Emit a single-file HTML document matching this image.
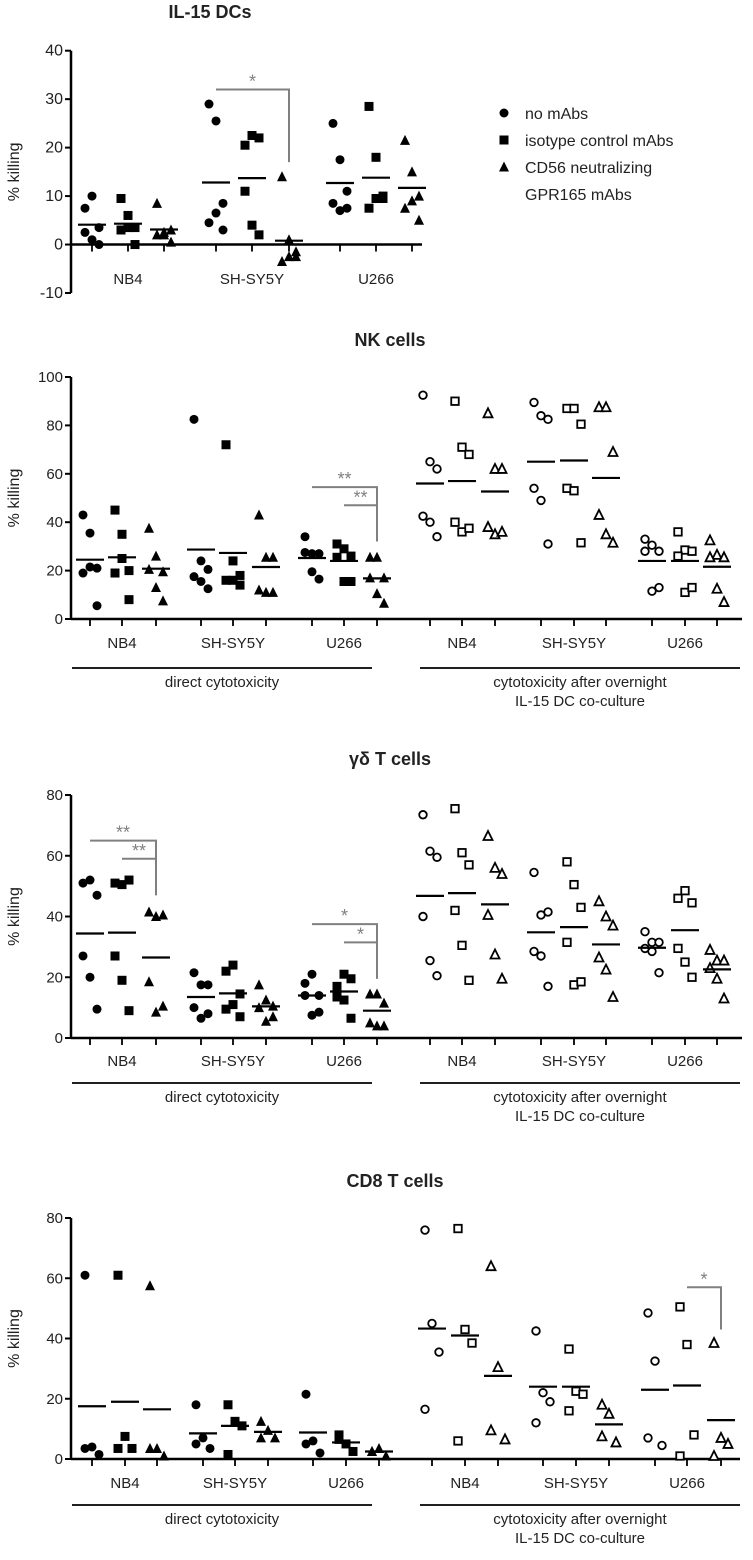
<!DOCTYPE html>
<html><head><meta charset="utf-8"><style>
html,body{margin:0;padding:0;background:#fff}
svg{display:block}
text{font-family:"Liberation Sans",sans-serif;fill:#222}
</style></head><body>
<svg id="fig" width="753" height="1560" viewBox="0 0 753 1560"></svg>
<script>
// ---------- data ----------
const groupLabels = ["NB4","SH-SY5Y","U266"];
const p1Values = [
 [[7.5,10,3.5,2.5,1,0],[9.5,6,3.5,3,3.5,0],[8.5,2,3,2,2.5,0.5]],
 [[29,25.5,8.5,4.5,6.5,3],[20.5,22.5,22,11,4,2],[14,1,-2.5,-3.5,-2.5,-1.5]],
 [[25,17.5,11,8.5,7,7.5],[28.5,18,10,7.5,9.5,9.5],[21.5,15,10,7.5,9,5]]
];
const p1Means = [[4.1,4.3,3.1],[12.8,13.7,0.8],[12.7,13.8,11.7]];
const p1Ticks = [-10,0,10,20,30,40];
const p2Values = [
 [[43,35.5,21,19,21.5,5.5],[45,35,20,19,25,8],[37.5,26,19.5,20.5,13,7.5]],
 [[82.5,24,20.5,17.5,15.5,12.5],[72,24,18,16,16,14],[43,25.5,25.5,12,11,11]],
 [[34,27,27,27.5,19.5,16.5],[31,29,26,25.5,15.5,15.5],[25.5,25.5,17,17,10.5,6.5]],
 [[92.5,65,62,42.5,40,34],[90,71,68,40,36,37.5],[85,62,62,38,35,36]],
 [[89.5,84,82.5,54,49,31],[87,87,80.5,54,53,31.5],[87.5,87.5,69,43,35,31.5]],
 [[33,30.5,28,28,11.5,13],[36,28.5,28,26,11,13],[32.5,26.5,25.5,25.5,12.5,7]]
];
const p2Means = [[24.5,25.5,20.8],[28.7,27.3,21.5],[25.2,24,16.8],[56,57,52.7],[65,65.5,58.3],[24,24,21.6]];
const p2Ticks = [0,20,40,60,80,100];
const p3Values = [
 [[51,52,47,27,20,9.5],[51,50.5,52,27,19,9],[41.5,40,40.5,18.5,8.5,10.5]],
 [[21.5,17.5,17.5,10,6.5,8],[22,24,14.5,9.5,11,7],[17.5,12.5,10.5,10,5.5,7]],
 [[18,21,14,14,7.5,8.5],[17,21,19.5,13.5,12.5,6.5],[14.5,14.5,11.5,5,4,4]],
 [[73.5,61.5,59.5,40,25.5,20.5],[75.5,61,57,42,30.5,19],[66.5,56,54,40.5,27.5,19.5]],
 [[54.5,40.5,41.5,28.5,27,17],[58,50.5,43,31.5,17.5,18.5],[45,40,37,26.5,22.5,13.5]],
 [[35,31.5,31.5,29.5,28.5,21.5],[46,48.5,44.5,29.5,25,20],[29,25.5,25.5,23,19.5,13]]
];
const p3Means = [[34.4,34.7,26.5],[13.5,14.7,10.4],[14,15.3,9],[46.8,47.7,44],[34.8,36.5,30.8],[29.7,35.5,22.6]];
const p3Ticks = [0,20,40,60,80];
const p4Values = [
 [[61,4,1.5,3.5],[61,7.5,3.5,3.5],[57.5,3.5,1,3.5]],
 [[18,7,3.5,5],[18,12.5,11,1.5],[12.5,9.5,7,7]],
 [[21.5,6,2,5],[8,5,2.5,6.5],[2.5,3.5,1,2.5]],
 [[76,45,35.5,16.5],[76.5,43,38.5,6],[64,30.5,6.5,9.5]],
 [[42.5,22,19,12],[36.5,22.5,21.5,16],[18,15,5.5,7.5]],
 [[48.5,32.5,4.5,7],[50.5,38,8,1],[38.5,7,5,1]]
];
const p4Means = [[17.5,19,16.5],[8.5,11,9],[8.8,5.5,2.5],[43.3,41,27.6],[24,24,11.5],[23,24.4,12.9]];
const p4Ticks = [0,20,40,60,80];

// ---------- drawing ----------
const NS="http://www.w3.org/2000/svg";
const svg=document.getElementById('fig');
function mk(tag,attrs,parent){const e=document.createElementNS(NS,tag);for(const k in attrs)e.setAttribute(k,attrs[k]);(parent||svg).appendChild(e);return e;}
function txt(s,x,y,size,extra,parent){const t=mk('text',Object.assign({x:x,y:y,'font-size':size,'text-anchor':'middle'},extra||{}),parent);t.textContent=s;return t;}

function marker(g,shape,open,x,y){
  const fill=open?'#fff':'#000', sw=open?1.8:0;
  let e;
  if(shape===0){e=mk('circle',{cx:x,cy:y,r:open?3.8:4.5,fill:fill,stroke:'#000','stroke-width':sw},g);}
  else if(shape===1){const s=open?7.5:9;e=mk('rect',{x:x-s/2,y:y-s/2,width:s,height:s,fill:fill,stroke:'#000','stroke-width':sw},g);}
  else {const h=open?8:9;e=mk('polygon',{points:`${x},${y-h/2-1} ${x-h/2-0.5},${y+h/2} ${x+h/2+0.5},${y+h/2}`,fill:fill,stroke:'#000','stroke-width':sw},g);}
  
  
}

function panel(o){
  const g=mk('g',{});
  
  
  const y=v=>o.y0+(v-o.vmin)/(o.vmax-o.vmin)*(o.y1-o.y0);
  const t=txt(o.title,o.titleX,o.titleY,18,{'font-weight':'bold'},g);
  
  
  const ya=mk('line',{x1:o.ax,x2:o.ax,y1:y(o.vmin),y2:y(o.vmax),stroke:'#000','stroke-width':2.5},g);
  
  
  o.ticks.forEach(v=>{
    mk('line',{x1:o.ax-6,x2:o.ax,y1:y(v),y2:y(v),stroke:'#000','stroke-width':2},g);
    const l=txt(String(v),o.ax-8,y(v)+5,o.tickSize||15,{'text-anchor':'end'},g);
    
    
  });
  const yt=txt('% killing',0,0,16,{transform:`translate(${o.ax-52},${(y(o.vmin)+y(o.vmax))/2}) rotate(-90)`},g);
  
  
  const xa=mk('line',{x1:o.ax,x2:o.axEnd,y1:y(0),y2:y(0),stroke:'#000','stroke-width':2.5},g);
  
  
  o.values.forEach((grp,gi)=>{
    const open=gi>=3;
    const lbl=txt(groupLabels[gi%3],o.tickX[gi][1],o.labelY,15,{},g);
    
    
    grp.forEach((vals,si)=>{
      const cx=o.tickX[gi][si];
      mk('line',{x1:cx,x2:cx,y1:y(0),y2:y(0)+7,stroke:'#000','stroke-width':1.8},g);
      vals.forEach((v,i)=>{
        const dx=((i%3)-1)*7;
        marker(g,si,open,cx+dx,y(v));
      });
      const m=mk('line',{x1:cx-14,x2:cx+14,y1:y(o.means[gi][si]),y2:y(o.means[gi][si]),stroke:'#000','stroke-width':2.2},g);
      
      
    });
  });
  (o.sig||[]).forEach(s=>{
    const p=mk('polyline',{points:`${s.x1},${y(s.top)} ${s.x2},${y(s.top)} ${s.x2},${y(s.bottom)}`,fill:'none',stroke:'#808080','stroke-width':2},g);
    
    
    const st=txt(s.label,(s.x1+s.x2)/2,y(s.top)-2,18,{style:'fill:#808080'},g);
    
    
  });
  (o.cond||[]).forEach(c=>{
    const ln=mk('line',{x1:c.x1,x2:c.x2,y1:c.y,y2:c.y,stroke:'#000','stroke-width':1.8},g);
    
    
    c.lines.forEach((s,k)=>{
      const tt=txt(s,(c.x1+c.x2)/2,c.y+19+k*19,15,{},g);
      
      
    });
  });
}

const tx6=[[90,122,156],[201,233,266],[312,344,377],[430,462,495],[541,574,606],[652,685,717]];
panel({name:'il15-dc-panel',title:'IL-15 DCs',titleX:210,titleY:18,ax:71,axEnd:422,vmin:-10,vmax:40,y0:293,y1:50.7,tickSize:16,
 ticks:p1Ticks,values:p1Values,means:p1Means,tickX:[[92,128,164],[216,252,289],[340,376,412]],labelY:284,
 sig:[{x1:216,x2:289,top:32,bottom:17,label:'*'}]});
panel({name:'nk-cells-panel',title:'NK cells',titleX:390,titleY:346,ax:71,axEnd:742,vmin:0,vmax:100,y0:619,y1:377,
 ticks:p2Ticks,values:p2Values,means:p2Means,tickX:tx6,labelY:648,
 sig:[{x1:312,x2:377,top:54.5,bottom:32,label:'**'},{x1:344,x2:377,top:47,bottom:32,label:'**'}],
 cond:[{x1:72,x2:372,y:668,lines:['direct cytotoxicity']},{x1:420,x2:740,y:668,lines:['cytotoxicity after overnight','IL-15  DC co-culture']}]});
panel({name:'gd-t-cells-panel',title:'γδ T cells',titleX:390,titleY:765,ax:71,axEnd:742,vmin:0,vmax:80,y0:1038,y1:795,
 ticks:p3Ticks,values:p3Values,means:p3Means,tickX:tx6,labelY:1066,
 sig:[{x1:90,x2:156,top:65,bottom:47,label:'**'},{x1:122,x2:156,top:59,bottom:47,label:'**'},
      {x1:312,x2:377,top:37.5,bottom:19.5,label:'*'},{x1:344,x2:377,top:31.5,bottom:19.5,label:'*'}],
 cond:[{x1:72,x2:372,y:1083,lines:['direct cytotoxicity']},{x1:420,x2:740,y:1083,lines:['cytotoxicity after overnight','IL-15  DC co-culture']}]});
panel({name:'cd8-t-cells-panel',title:'CD8 T cells',titleX:395,titleY:1187,ax:71,axEnd:740,vmin:0,vmax:80,y0:1459,y1:1218,
 ticks:p4Ticks,values:p4Values,means:p4Means,tickX:[[92,125,157],[203,235,268],[313,346,379],[432,465,498],[543,576,609],[655,687,721]],labelY:1488,
 sig:[{x1:687,x2:721,top:57,bottom:43,label:'*'}],
 cond:[{x1:72,x2:372,y:1505,lines:['direct cytotoxicity']},{x1:420,x2:740,y:1505,lines:['cytotoxicity after overnight','IL-15  DC co-culture']}]});

const lg=mk('g',{});


marker(lg,0,false,504,113);
marker(lg,1,false,504,140);
marker(lg,2,false,504,167);
[['no mAbs',119],['isotype control mAbs',146],['CD56 neutralizing',173],['GPR165 mAbs',200]].forEach(a=>{
  const t=txt(a[0],525,a[1],16,{'text-anchor':'start'},lg);
  
  
});
</script>
</body></html>
